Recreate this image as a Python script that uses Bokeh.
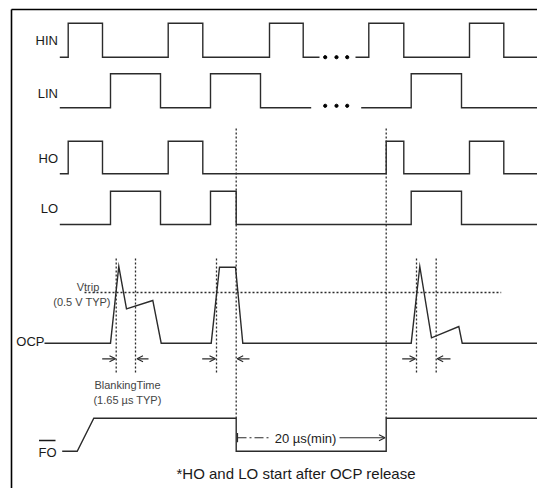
from bokeh.plotting import figure
from bokeh.models import Range1d, Arrow, OpenHead
from bokeh.core.properties import value
from bokeh.embed import file_html
from bokeh.resources import INLINE

# ---------------- data (time positions in px-like units, logical levels) ----------------
HIN_T1 = [59.3, 67.7, 67.7, 102, 102, 167.7, 167.7, 202.3, 202.3, 269, 269, 302.7, 302.7, 319]
HIN_V1 = [0, 0, 1, 1, 0, 0, 1, 1, 0, 0, 1, 1, 0, 0]
HIN_T2 = [355, 368.3, 368.3, 403.3, 403.3, 469, 469, 503.3, 503.3, 545]
HIN_V2 = [0, 0, 1, 1, 0, 0, 1, 1, 0, 0]

LIN_T1 = [59.3, 110, 110, 160, 160, 210, 210, 260, 260, 310.7]
LIN_V1 = [0, 0, 1, 1, 0, 0, 1, 1, 0, 0]
LIN_T2 = [360.7, 410.7, 410.7, 461, 461, 545]
LIN_V2 = [0, 0, 1, 1, 0, 0]

DOTS_T = [324.7, 336, 346.7]

HO_T = [59.3, 67.7, 67.7, 102, 102, 167.7, 167.7, 202.3, 202.3, 385.7, 385.7, 403.3,
        403.3, 469, 469, 503.3, 503.3, 545]
HO_V = [0, 0, 1, 1, 0, 0, 1, 1, 0, 0, 1, 1, 0, 0, 1, 1, 0, 0]

LO_T = [59.3, 110, 110, 160, 160, 210, 210, 235.7, 235.7, 410.7, 410.7, 461, 461, 545]
LO_V = [0, 0, 1, 1, 0, 0, 1, 1, 0, 0, 1, 1, 0, 0]

OCP_T = [44, 110, 118.3, 126, 152.3, 160.7, 210.7, 219, 235, 242.3, 410.7, 419.3, 431, 458.3, 461.7, 536.7]
OCP_V = [0, 0, 1, 0.448, 0.557, 0, 0, 0.99, 0.99, 0, 0, 1, 0.07, 0.218, 0, 0]
VTRIP = 0.661
VTRIP_T = [84, 500.7]

FO_T = [61.7, 76.7, 93.3, 235.7, 235.7, 385.7, 385.7, 536.7]
FO_V = [0, 0, 1, 1, 0, 0, 1, 1]

BLANK_T = [115.7, 135, 216, 416, 435.7]          # short dotted markers
RELEASE_T = [235.7, 385.7]                        # long dotted markers
ARROW_R_START = [101.7, 201.7, 401.7]
ARROW_R_END = [115, 215, 415]
ARROW_L_START = [148, 249, 450]
ARROW_L_END = [136.5, 236.7, 436.7]

LABELS = ["HIN", "LIN", "HO", "LO", "OCP", "FO"]

# ---------------- layout (row baselines / amplitudes in page px) ----------------
ROW = {  # name: (low y, high y)
    "HIN": (56.7, 22.7),
    "LIN": (107.3, 73.3),
    "HO": (173.3, 140.7),
    "LO": (224.0, 190.7),
    "OCP": (342.7, 266.0),
    "FO": (450.7, 417.7),
}


def ymap(name, levels):
    lo, hi = ROW[name]
    return [lo + (hi - lo) * v for v in levels]


W, H = 537, 488
p = figure(width=W, height=H, output_backend="svg", toolbar_location=None,
           x_range=Range1d(0, W), y_range=Range1d(H, 0),
           min_border=0, background_fill_color="white", border_fill_color="white")
p.axis.visible = False
p.grid.visible = False
p.outline_line_color = None

WAVE = "#2b2b2b"
LW = 1.4
FONT = value("Liberation Sans")

# frame (left and top edges)
p.segment(x0=[11, 11], y0=[9, 9], x1=[11, W], y1=[H, 9], line_color="black", line_width=1.6)

# waveforms
for t, v, name in [(HIN_T1, HIN_V1, "HIN"), (HIN_T2, HIN_V2, "HIN"),
                   (LIN_T1, LIN_V1, "LIN"), (LIN_T2, LIN_V2, "LIN"),
                   (HO_T, HO_V, "HO"), (LO_T, LO_V, "LO"),
                   (OCP_T, OCP_V, "OCP"), (FO_T, FO_V, "FO")]:
    p.line(t, ymap(name, v), line_color=WAVE, line_width=LW, line_join="miter")

# ellipsis dots
p.scatter(DOTS_T, [ROW["HIN"][0]] * 3, size=3.2, color="black")
p.scatter(DOTS_T, [ROW["LIN"][0] - 2] * 3, size=3.2, color="black")

# Vtrip dashed level
vy = ymap("OCP", [VTRIP])[0]
p.line(VTRIP_T, [vy, vy], line_color=WAVE, line_width=1.3, line_dash="2 2")

# dotted verticals
for x in BLANK_T:
    p.line([x, x], [258, 374], line_color=WAVE, line_width=1.3, line_dash="2 2")
for x in RELEASE_T:
    p.line([x, x], [128, ROW["FO"][1]], line_color=WAVE, line_width=1.3, line_dash="2 2")

# blanking arrows
ay = 358.3
for xs, xe in list(zip(ARROW_R_START, ARROW_R_END)) + list(zip(ARROW_L_START, ARROW_L_END)):
    p.add_layout(Arrow(end=OpenHead(size=6, line_width=1.2, line_color=WAVE),
                       x_start=xs, y_start=ay, x_end=xe, y_end=ay,
                       line_color=WAVE, line_width=1.2))

# 20 us arrow
py = 437.2
p.line([237, 237], [432.5, 441.8], line_color=WAVE, line_width=1.2)
p.line([237, 271], [py, py], line_color=WAVE, line_width=1.1, line_dash="9 3 2 3")
p.add_layout(Arrow(end=OpenHead(size=6, line_width=1.2, line_color=WAVE),
                   x_start=339, y_start=py, x_end=384.5, y_end=py,
                   line_color=WAVE, line_width=1.1))
p.text([305], [py + 1], text=["20 \u00b5s(min)"], text_font=FONT, text_font_size="13px",
       text_align="center", text_baseline="middle", text_color="#222222")

# row labels
label_x = [57.5, 57.5, 57.5, 57.5, 44, 56]
label_y = [39.5, 92.5, 157.5, 207.5, 340.5, 451.5]
p.text(label_x, label_y, text=LABELS, text_font=FONT, text_font_size="13px",
       text_align="right", text_baseline="middle", text_color="#1a1a1a")
# overline of FO
p.line([38.5, 55], [440, 440], line_color="#1a1a1a", line_width=1.3)

# Vtrip annotations
p.text([87.5, 81.5], [286, 301], text=["Vtrip", "(0.5 V TYP)"], text_font=FONT,
       text_font_size="11px", text_align="center", text_baseline="middle", text_color="#444444")
p.text([127, 127], [384, 399.5], text=["BlankingTime", "(1.65 \u00b5s TYP)"], text_font=FONT,
       text_font_size="11px", text_align="center", text_baseline="middle", text_color="#444444")

# footnote
p.text([176], [473], text=["*HO and LO start after OCP release"], text_font=FONT,
       text_font_size="15px", text_align="left", text_baseline="middle", text_color="#1a1a1a")

open("out.html", "w").write(file_html(p, INLINE))
